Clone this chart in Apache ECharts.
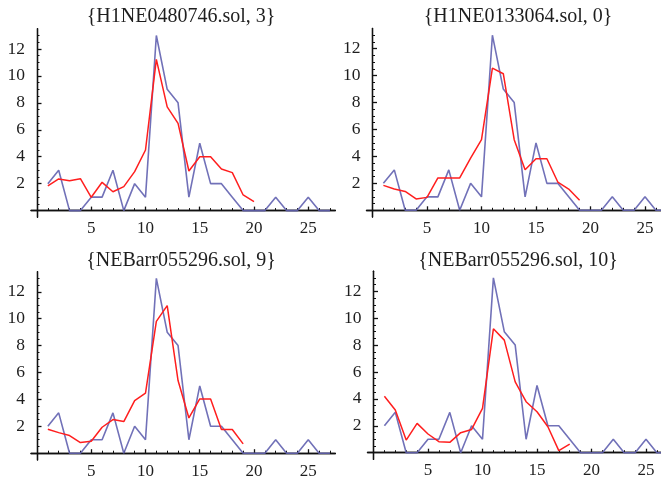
<!DOCTYPE html>
<html>
<head>
<meta charset="utf-8">
<script src="https://cdn.jsdelivr.net/npm/echarts@6/dist/echarts.min.js"></script>
<style>html,body{margin:0;padding:0;background:#fff}#c{width:661px;height:477px}</style>
</head>
<body>
<div id="c"></div>
<script>
// ---- data ----
const titles = ["{H1NE0480746.sol, 3}", "{H1NE0133064.sol, 0}", "{NEBarr055296.sol, 9}", "{NEBarr055296.sol, 10}"];
const observedX = [1,2,3,4,5,6,7,8,9,10,11,12,13,14,15,16,17,18,19,20,21,22,23,24,25,26,27];
const observed  = [2,3,0,0,1,1,3,0,2,1,13,9,8,1,5,2,2,1,0,0,0,1,0,0,1,0,0];
const fit1 = [1.83,2.35,2.22,2.37,0.99,2.1,1.4,1.78,2.89,4.5,11.23,7.7,6.48,2.94,4.0,4.0,3.09,2.82,1.16,0.66];
const fit2 = [1.85,1.58,1.40,0.84,0.96,2.4,2.4,2.4,3.88,5.24,10.56,10.14,5.24,3.01,3.83,3.83,2.1,1.58,0.74];
const fit3 = [1.78,1.53,1.31,0.79,0.89,1.93,2.5,2.35,3.91,4.46,9.8,10.97,5.4,2.62,4.03,4.03,1.76,1.76,0.69];
const fit4 = [4.2,3.17,0.94,2.18,1.39,0.82,0.77,1.49,1.73,3.29,9.21,8.37,5.27,3.79,3.04,1.93,0.15,0.64];
const fits = [fit1, fit2, fit3, fit4];
const xMajorTicks = [5,10,15,20,25];
const xMinorTicks = [1,2,3,4,6,7,8,9,11,12,13,14,16,17,18,19,21,22,23,24,26,27];
const yMajorTicks = [2,4,6,8,10,12];
const yMinorTicks = [0.5,1,1.5,2.5,3,3.5,4.5,5,5.5,6.5,7,7.5,8.5,9,9.5,10.5,11,11.5,12.5,13];

// ---- layout ----
const XMIN = -0.55, XMAX = 27.5, YMIN = -0.5, YMAX = 13.5;
const panels = [
  {x0: 37,    ux: 10.85, y0: 210.6, uy: 13.47, tx: 181, ty: 7},
  {x0: 372.5, ux: 10.9,  y0: 210.3, uy: 13.47, tx: 518, ty: 7},
  {x0: 37,    ux: 10.85, y0: 453.2, uy: 13.45, tx: 181, ty: 251},
  {x0: 373.5, ux: 10.9,  y0: 452.7, uy: 13.45, tx: 518, ty: 251}
];
const FONT = "'Liberation Serif', 'DejaVu Serif', serif";
const TXT = '#1e1e1e';
const AX = {color: '#111', width: 1.3};

const grid = [], xAxis = [], yAxis = [], series = [], title = [];
panels.forEach((p, g) => {
  const left = p.x0 + XMIN * p.ux;
  const width = (XMAX - XMIN) * p.ux;
  const top = p.y0 - YMAX * p.uy;
  const height = (YMAX - YMIN) * p.uy;
  grid.push({left, top, width, height, containLabel: false, outerBoundsMode: 'none'});
  title.push({text: titles[g], left: p.tx, top: p.ty, textAlign: 'center', padding: 0,
    textStyle: {fontFamily: FONT, fontSize: 20, fontWeight: 'normal', color: TXT}});
  const xBase = {gridIndex: g, type: 'value', min: XMIN, max: XMAX, position: 'bottom',
    splitLine: {show: false}, axisLine: {show: true, onZero: true, lineStyle: AX}};
  xAxis.push(Object.assign({}, xBase, {
    axisTick: {show: true, inside: true, length: 4, customValues: xMajorTicks, lineStyle: AX},
    axisLabel: {show: true, customValues: xMajorTicks, fontFamily: FONT, fontSize: 17, color: TXT, margin: 3}
  }));
  xAxis.push(Object.assign({}, xBase, {
    axisTick: {show: true, inside: true, length: 2.5, customValues: xMinorTicks, lineStyle: {color: '#111', width: 1}},
    axisLabel: {show: false, customValues: xMinorTicks}
  }));
  const yBase = {gridIndex: g, type: 'value', min: YMIN, max: YMAX, position: 'left',
    splitLine: {show: false}, axisLine: {show: true, onZero: true, lineStyle: AX}};
  yAxis.push(Object.assign({}, yBase, {
    axisTick: {show: true, inside: true, length: 4.5, customValues: yMajorTicks, lineStyle: AX},
    axisLabel: {show: true, customValues: yMajorTicks, fontFamily: FONT, fontSize: 17.5, color: TXT, margin: 6}
  }));
  yAxis.push(Object.assign({}, yBase, {
    axisTick: {show: true, inside: true, length: 2.5, customValues: yMinorTicks, lineStyle: {color: '#111', width: 1}},
    axisLabel: {show: false, customValues: yMinorTicks}
  }));
  series.push({type: 'line', xAxisIndex: 2 * g, yAxisIndex: 2 * g, clip: true, showSymbol: false, symbol: 'none',
    silent: true, animation: false,
    data: observed.map((v, i) => [observedX[i], v]),
    lineStyle: {color: '#6262b0', width: 1.6, opacity: 0.9}});
  series.push({type: 'line', xAxisIndex: 2 * g, yAxisIndex: 2 * g, clip: true, showSymbol: false, symbol: 'none',
    silent: true, animation: false,
    data: fits[g].map((v, i) => [observedX[i], v]),
    lineStyle: {color: '#ff1e1e', width: 1.5}});
});

const chart = echarts.init(document.getElementById('c'), null, {renderer: 'canvas'});
chart.setOption({animation: false, backgroundColor: '#fff', title, grid, xAxis, yAxis, series});
</script>
</body>
</html>
